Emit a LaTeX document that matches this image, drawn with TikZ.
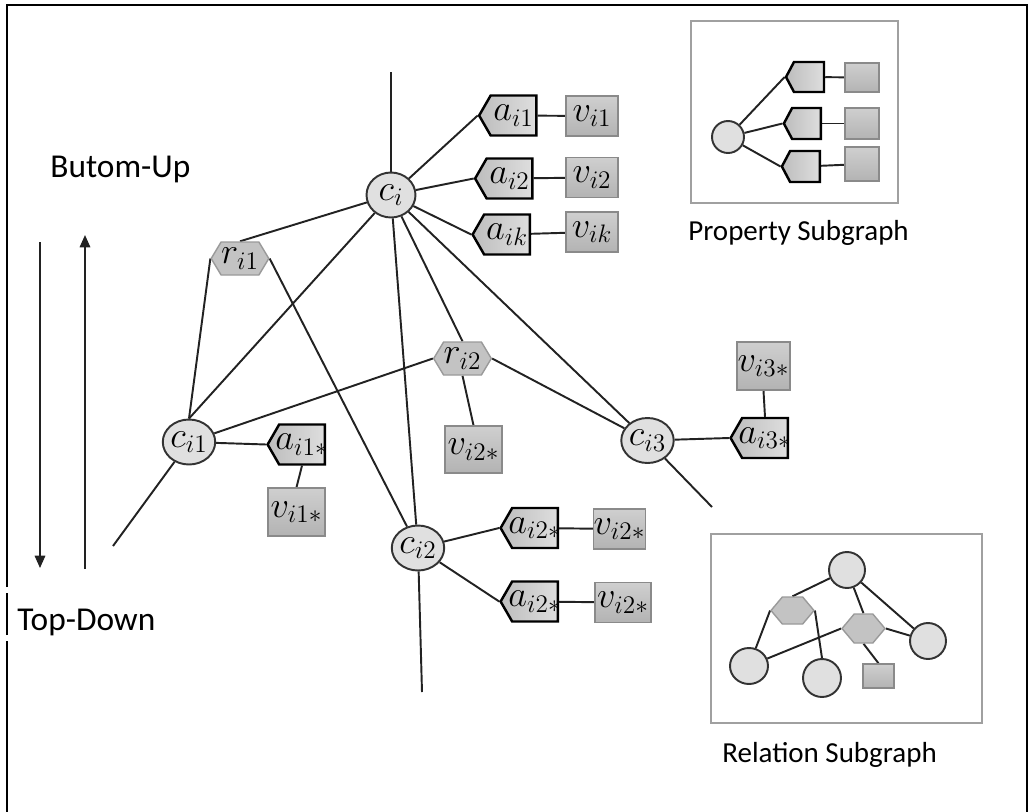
\documentclass[tikz,border=0pt]{standalone}
\usepackage[no-math]{fontspec}
\newfontfamily\labelfont{Carlito}
\usetikzlibrary{shapes.symbols,shapes.geometric,arrows.meta}

\definecolor{edgecol}{HTML}{222222}
\definecolor{circfill}{HTML}{E0E0E0}
\definecolor{circline}{HTML}{333333}
\definecolor{attrleft}{HTML}{BDBDBD}
\definecolor{attrright}{HTML}{DEDEDE}
\definecolor{valtop}{HTML}{CFCFCF}
\definecolor{valbot}{HTML}{B3B3B3}
\definecolor{valline}{HTML}{8A8A8A}
\definecolor{relfill}{HTML}{C3C3C3}
\definecolor{relline}{HTML}{9A9A9A}
\definecolor{frameline}{HTML}{A0A0A0}

\pgfdeclarelayer{background}
\pgfsetlayers{background,main}

% attribute labels keep a fixed width so the tag shapes do not grow
\newcommand\attrlabel[1]{\makebox[26pt]{$#1$}}

\tikzset{
  conc/.style={ellipse, draw=circline, line width=1.1pt, fill=circfill,
    minimum width=0.98cm, minimum height=0.9cm, inner sep=0pt},
  attr/.style={signal, signal to=west, signal pointer angle=120,
    draw=black, line width=1.4pt, left color=attrleft, right color=attrright,
    minimum width=1.1cm, minimum height=0.8cm, inner sep=0pt},
  valbox/.style={rectangle, draw=valline, line width=0.8pt,
    top color=valtop, bottom color=valbot,
    minimum width=1.04cm, minimum height=0.8cm, inner sep=0pt},
  rel/.style={signal, signal to=east and west, signal pointer angle=118,
    draw=relline, line width=0.8pt, fill=relfill,
    minimum width=1.12cm, minimum height=0.66cm, inner sep=0pt},
  link/.style={draw=edgecol, line width=1.1pt},
  dirarrow/.style={draw=edgecol, line width=0.9pt, -{Triangle[length=7pt,width=6pt]}},
  frame/.style={draw=frameline, line width=1.2pt},
  caption/.style={font=\labelfont, anchor=base west, inner sep=0pt},
  lbl/.style={font=\fontsize{21.5}{24}\selectfont},
}

\begin{document}
\begin{tikzpicture}[x=0.02cm, y=-0.02cm]
\useasboundingbox (0,0) rectangle (1029,812);

% outer frame
\draw[line width=1.3pt] (7,812) -- (7,641);
\draw[line width=1.3pt] (7,635) -- (7,593);
\draw[line width=1.3pt] (7,587) -- (7,5) -- (1027,5) -- (1027,812);

% direction arrows and captions
\coordinate (dtop) at (40,242);
\coordinate (dbot) at (40,568);
\coordinate (ubot) at (85,569);
\coordinate (utop) at (85,235);
\draw[dirarrow] (dtop) -- (dbot);
\draw[dirarrow] (ubot) -- (utop);
\node[caption, font=\labelfont\fontsize{19}{22}\selectfont] (bu) at (50,177) {Butom-Up};
\node[caption, font=\labelfont\fontsize{19}{22}\selectfont] (td) at (17,630) {Top-Down};

% central concept and its properties
\node[conc, lbl] (ci) at (391,195) {$c_i$};
\node[attr, lbl] (ai1) at (513.5,115.5) {\attrlabel{a_{i1}}};
\node[valbox, lbl] (vi1) at (592,116) {$v_{i1}$};
\node[attr, lbl] (ai2) at (509.5,178.5) {\attrlabel{a_{i2}}};
\node[valbox, lbl] (vi2) at (592,177.5) {$v_{i2}$};
\node[attr, lbl] (aik) at (507,234.5) {\attrlabel{a_{ik}}};
\node[valbox, lbl] (vik) at (592,232) {$v_{ik}$};

% relations
\node[rel, lbl] (ri1) at (240,258.5) {$r_{i1}$};
\node[rel, lbl] (ri2) at (462.5,358.5) {$r_{i2}$};
\node[valbox, lbl, minimum width=1.14cm, minimum height=0.94cm] (vr2) at (473.5,449.5) {$v_{i2*}$};

% neighbour concepts
\node[conc, lbl] (ci1) at (189,442) {$c_{i1}$};
\node[attr, lbl] (ai1s) at (302,444.5) {\attrlabel{a_{i1*}}};
\node[valbox, lbl, minimum width=1.14cm, minimum height=0.96cm] (vi1s) at (296.5,512) {$v_{i1*}$};

\node[conc, lbl] (ci2) at (418,548) {$c_{i2}$};
\node[attr, lbl] (ai2a) at (535,528) {\attrlabel{a_{i2*}}};
\node[valbox, lbl] (vi2a) at (619.5,529) {$v_{i2*}$};
\node[attr, lbl] (ai2b) at (535,601.5) {\attrlabel{a_{i2*}}};
\node[valbox, lbl, minimum width=1.12cm] (vi2b) at (623,602.5) {$v_{i2*}$};

\node[conc, lbl] (ci3) at (647.5,440.5) {$c_{i3}$};
\node[attr, lbl] (ai3s) at (765,438) {\attrlabel{a_{i3*}}};
\node[valbox, lbl, minimum width=1.06cm, minimum height=0.96cm] (vi3s) at (763.5,366) {$v_{i3*}$};

% open ends
\coordinate (citop) at (391,72);
\coordinate (ci1end) at (113,546);
\coordinate (ci2end) at (422,692);
\coordinate (ci3end) at (712,507);

\begin{pgfonlayer}{background}
\draw[link] (ci) -- (citop);
\draw[link] (ci) -- (ai1.west);
\draw[link] (ci) -- (ai2.west);
\draw[link] (ci) -- (aik.west);
\draw[link] (ai1) -- (vi1);
\draw[link] (ai2) -- (vi2);
\draw[link] (aik) -- (vik);
\draw[link] (ci) -- (ri1.north);
\draw[link] (ri1.west) -- (ci1.north);
\draw[link] (ri1.east) -- (ci2);
\draw[link] (ci) -- (ci1.north);
\draw[link] (ci) -- (ci2);
\draw[link] (ci) -- (ri2.north);
\draw[link] (ci) -- (ci3);
\draw[link] (ci1) -- (ri2.west);
\draw[link] (ri2.east) -- (ci3);
\draw[link] (ri2.south) -- (vr2.north);
\draw[link] (ci1) -- (ai1s.west);
\draw[link] (ai1s.south) -- (vi1s.north);
\draw[link] (ci1) -- (ci1end);
\draw[link] (ci2) -- (ai2a.west);
\draw[link] (ci2) -- (ai2b.west);
\draw[link] (ai2a) -- (vi2a);
\draw[link] (ai2b) -- (vi2b);
\draw[link] (ci2) -- (ci2end);
\draw[link] (ci3) -- (ai3s.west);
\draw[link] (ai3s.north) -- (vi3s.south);
\draw[link] (ci3) -- (ci3end);
\end{pgfonlayer}

% property subgraph legend
\draw[frame] (691,21) rectangle (898,203);
\node[conc, minimum width=0.64cm, minimum height=0.64cm] (pc) at (728,137) {};
\node[attr, signal pointer angle=124, minimum width=0.76cm, minimum height=0.6cm] (pa1) at (809,77) {};
\node[attr, signal pointer angle=124, minimum width=0.74cm, minimum height=0.62cm] (pa2) at (806.5,123.5) {};
\node[attr, signal pointer angle=124, minimum width=0.76cm, minimum height=0.62cm] (pa3) at (805,166.5) {};
\node[valbox, minimum width=0.68cm, minimum height=0.58cm] (pv1) at (862,77.5) {};
\node[valbox, minimum width=0.68cm, minimum height=0.62cm] (pv2) at (862,123.5) {};
\node[valbox, minimum width=0.68cm, minimum height=0.68cm] (pv3) at (862,164) {};
\begin{pgfonlayer}{background}
\draw[link] (pc) -- (pa1.west);
\draw[link] (pc) -- (pa2.west);
\draw[link] (pc) -- (pa3.west);
\draw[link] (pa1) -- (pv1);
\draw[link] (pa2) -- (pv2);
\draw[link] (pa3) -- (pv3);
\end{pgfonlayer}
\node[caption, font=\labelfont\fontsize{16.5}{20}\selectfont] (pcap) at (688,240) {Property Subgraph};

% relation subgraph legend
\draw[frame] (711,534) rectangle (982,723);
\node[conc, minimum width=0.72cm, minimum height=0.72cm] (rc1) at (847,570) {};
\node[rel, signal pointer angle=100, minimum width=0.86cm, minimum height=0.54cm] (rh1) at (792.5,610.5) {};
\node[rel, signal pointer angle=100, minimum width=0.86cm, minimum height=0.58cm] (rh2) at (863.5,628.5) {};
\node[conc, minimum width=0.72cm, minimum height=0.72cm] (rc2) at (928,641) {};
\node[conc, minimum width=0.76cm, minimum height=0.72cm] (rc3) at (749,666) {};
\node[conc, minimum width=0.76cm, minimum height=0.76cm] (rc4) at (822,678) {};
\node[valbox, minimum width=0.62cm, minimum height=0.48cm] (rs) at (878.5,676) {};
\begin{pgfonlayer}{background}
\draw[link] (rc1) -- (rh1.north);
\draw[link] (rc1) -- (rh2.north);
\draw[link] (rc1) -- (rc2);
\draw[link] (rh1.west) -- (rc3);
\draw[link] (rh1.east) -- (rc4.north);
\draw[link] (rc3) -- (rh2.west);
\draw[link] (rh2.east) -- (rc2);
\draw[link] (rh2.south) -- (rs.north);
\end{pgfonlayer}
\node[caption, font=\labelfont\fontsize{16.5}{20}\selectfont] (rcap) at (722,762) {Relation Subgraph};
\end{tikzpicture}
\end{document}
